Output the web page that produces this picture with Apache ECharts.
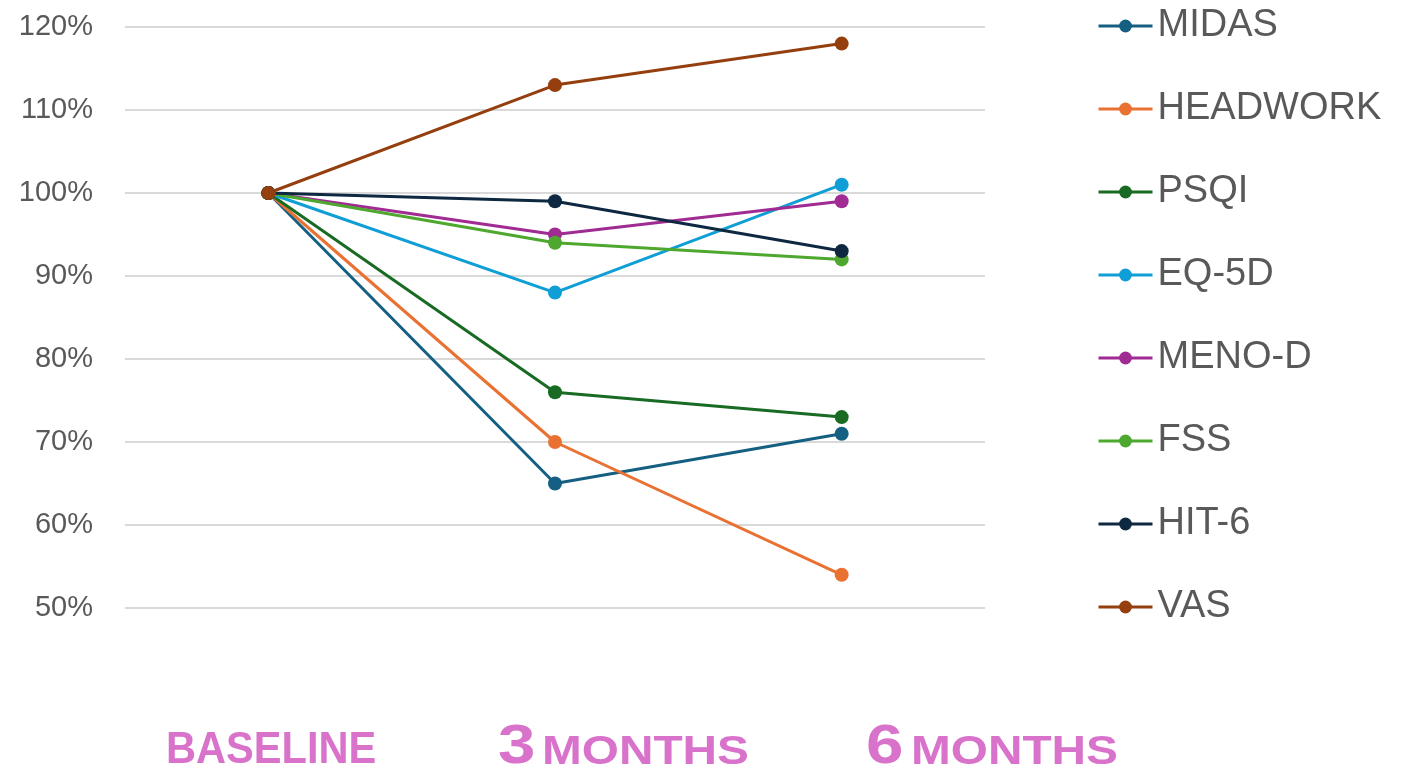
<!DOCTYPE html>
<html>
<head>
<meta charset="utf-8">
<script src="https://cdn.jsdelivr.net/npm/echarts@6/dist/echarts.min.js"></script>
<style>
  html, body { margin: 0; padding: 0; background: #fff; }
  #chart { width: 1409px; height: 774px; }
</style>
</head>
<body>
<div id="chart"></div>
<script>
const categories = ["Baseline", "3 months", "6 months"];
const seriesNames = ["MIDAS", "HEADWORK", "PSQI", "EQ-5D", "MENO-D", "FSS", "HIT-6", "VAS"];
const midas = [100, 65, 71];
const headwork = [100, 70, 54];
const psqi = [100, 76, 73];
const eq5d = [100, 88, 101];
const menoD = [100, 95, 99];
const fss = [100, 94, 92];
const hit6 = [100, 99, 93];
const vas = [100, 113, 118];
const colors = ["#156082", "#E97132", "#196B24", "#0F9ED5", "#A02B93", "#4EA72E", "#0E2841", "#953F0E"];

const allValues = [midas, headwork, psqi, eq5d, menoD, fss, hit6, vas];

const chart = echarts.init(document.getElementById("chart"));

const series = seriesNames.map((name, i) => ({
  name: name,
  type: "line",
  data: allValues[i],
  symbol: "circle",
  symbolSize: 14,
  lineStyle: { width: 3, color: colors[i] },
  itemStyle: { color: colors[i] },
  emphasis: { disabled: true },
}));

// pink labels under the chart: digit is bigger than the caps word
const pink = "#D872CA";
const pinkText = (x, y, text, size, sx) => ({
  type: "text",
  x: x,
  y: y,
  scaleX: sx,
  style: {
    text: text,
    fill: pink,
    font: "bold " + size + "px 'Liberation Sans'",
    verticalAlign: "middle",
  },
});

chart.setOption({
  animation: false,
  color: colors,
  grid: { left: 125, right: 424, top: 27, bottom: 166 },
  xAxis: {
    type: "category",
    data: categories,
    axisLine: { show: false },
    axisTick: { show: false },
    axisLabel: { show: false },
  },
  yAxis: {
    type: "value",
    min: 50,
    max: 120,
    interval: 10,
    axisLine: { show: false },
    axisTick: { show: false },
    axisLabel: {
      formatter: "{value}%",
      color: "#595959",
      fontSize: 29,
      fontFamily: "Liberation Sans",
      margin: 32,
      padding: [3, 0, 0, 0],
    },
    splitLine: { lineStyle: { color: "#D9D9D9", width: 2 } },
  },
  legend: {
    orient: "vertical",
    left: 1092,
    top: 2,
    itemWidth: 54,
    itemHeight: 16,
    itemGap: 45,
    lineStyle: { width: 3 },
    textStyle: { fontSize: 38, color: "#595959", fontFamily: "Liberation Sans" },
    data: seriesNames,
  },
  graphic: [
    pinkText(166, 751, "BASELINE", 44, 0.945),
    pinkText(498, 748, "3", 56, 1.2),
    pinkText(542, 753, "MONTHS", 41, 1.165),
    pinkText(866, 748, "6", 56, 1.2),
    pinkText(911, 753, "MONTHS", 41, 1.165),
  ],
  series: series,
});
</script>
</body>
</html>
